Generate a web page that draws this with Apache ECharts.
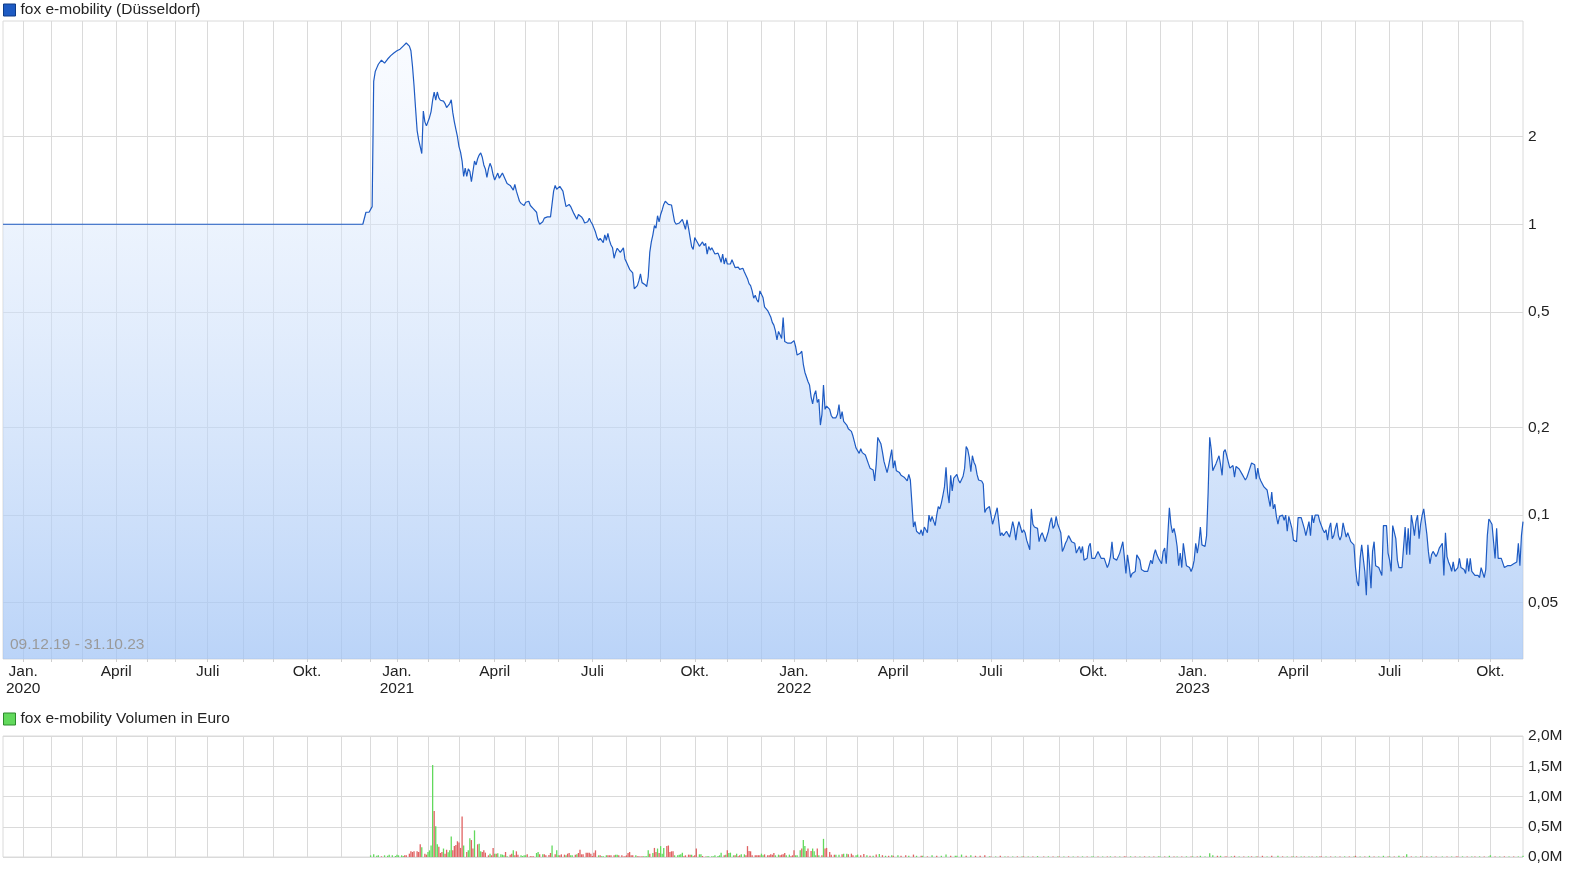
<!DOCTYPE html>
<html><head><meta charset="utf-8">
<script src="https://cdn.jsdelivr.net/npm/echarts@6/dist/echarts.min.js"></script>
<style>html,body{margin:0;padding:0;background:#fff}#c{width:1586px;height:874px}</style>
</head><body><div id="c"></div>
<script>
// ---------- axis / calendar data ----------
const firstDay = '2019-12-09', lastDay = '2023-10-31';
const holidays = ['2019-12-24','2019-12-25','2019-12-26','2019-12-31','2020-01-01','2020-04-10','2020-04-13','2020-05-01',
  '2020-12-24','2020-12-25','2020-12-31','2021-01-01','2021-04-02','2021-04-05','2021-12-24','2021-12-31',
  '2022-04-15','2022-04-18','2022-12-26','2023-04-07','2023-04-10','2023-05-01'];
const pointsPerMonth2020 = [18,20,22,20,18,21,23,19,22,22,19,17];
const quarterNames = {0:'Jan.',3:'April',6:'Juli',9:'Okt.'};
const priceTicks = [0.05,0.1,0.2,0.5,1,2];
const rangeText = '09.12.19 - 31.10.23';

// ---------- price samples per month (EUR) ----------
const price2019 = [[1]]; // Dec 2019
const price2020 = [[1],[1],[1],[1],[1],[1],[1],[1],[1],[1],
  [1,1,1,1,1,1,1,1,1.1,1.1],
  [1.1,1.15,3.1,3.35,3.45,3.55,3.6,3.67,3.67,3.58,3.55,3.7,3.75,3.8,3.85,3.88,3.93]];
const price2021 = [
  [3.95,3.98,4.0,4.05,4.1,4.15,4.2,4.23,4.1,3.95,3.5,3.0,2.5,2.1,1.95,1.85,1.75,2.45,2.25,2.18],
  [2.2,2.33,2.44,2.67,2.85,2.67,2.85,2.72,2.67,2.7,2.65,2.6,2.52,2.55,2.6,2.68,2.42,2.25,2.12,2.0],
  [1.85,1.77,1.65,1.46,1.56,1.46,1.55,1.52,1.40,1.38,1.65,1.6,1.68,1.73,1.76,1.7,1.6,1.55,1.45,1.55,1.62,1.57,1.48],
  [1.42,1.46,1.50,1.44,1.47,1.50,1.48,1.42,1.38,1.36,1.36,1.34,1.31,1.37,1.3,1.25,1.2,1.18,1.17,1.16],
  [1.19,1.2,1.2,1.16,1.15,1.13,1.12,1.1,1.03,1.0,1.0,1.02,1.05,1.05,1.06,1.06,1.06,1.07,1.3,1.36,1.32],
  [1.34,1.35,1.35,1.3,1.22,1.15,1.16,1.17,1.15,1.12,1.09,1.08,1.04,1.08,1.08,1.06,1.04,1.01,1.01,1.02,1.05,1.02],
  [1.0,0.97,0.94,0.9,0.88,0.895,0.88,0.865,0.92,0.88,0.93,0.88,0.849,0.83,0.764,0.8,0.827,0.82,0.8,0.8,0.83,0.76],
  [0.74,0.72,0.70,0.69,0.68,0.6,0.6,0.615,0.64,0.675,0.63,0.64,0.62,0.61,0.66,0.8,0.87,0.92,0.99,0.97,1.07,1.02],
  [1.08,1.12,1.17,1.2,1.2,1.17,1.165,1.165,1.16,1.02,1.0,1.0,1.01,1.02,1.04,1.0,0.96,1.035,0.97,0.9,0.838,0.82],
  [0.9,0.88,0.86,0.84,0.855,0.87,0.845,0.86,0.79,0.838,0.815,0.83,0.82,0.79,0.79,0.796,0.77,0.74,0.79,0.73,0.767],
  [0.73,0.719,0.73,0.755,0.745,0.71,0.71,0.712,0.70,0.70,0.706,0.685,0.69,0.65,0.625,0.615,0.59,0.557,0.57,0.55,0.54,0.59],
  [0.59,0.56,0.52,0.52,0.505,0.505,0.48,0.46,0.45,0.43,0.40,0.428,0.417,0.405,0.478,0.395,0.395,0.39,0.395,0.39,0.39]];
const price2022 = [
  [0.398,0.38,0.355,0.357,0.36,0.366,0.33,0.31,0.31,0.288,0.28,0.255,0.241,0.259,0.268,0.244,0.25,0.204,0.222,0.28,0.231],
  [0.237,0.234,0.231,0.22,0.216,0.219,0.216,0.222,0.24,0.214,0.227,0.21,0.207,0.204,0.198,0.196,0.194,0.187,0.189,0.17],
  [0.17,0.163,0.169,0.164,0.162,0.161,0.16,0.15,0.145,0.143,0.143,0.131,0.15,0.185,0.185,0.176,0.165,0.153,0.152,0.14,0.148,0.148,0.168],
  [0.145,0.154,0.142,0.14,0.14,0.137,0.136,0.135,0.134,0.131,0.138,0.132,0.11,0.091,0.095,0.088,0.087,0.086,0.089],
  [0.085,0.091,0.089,0.087,0.1,0.095,0.099,0.1,0.092,0.1,0.107,0.105,0.11,0.117,0.125,0.146,0.12,0.11,0.137,0.121,0.134,0.136],
  [0.138,0.132,0.129,0.131,0.136,0.145,0.172,0.168,0.158,0.141,0.16,0.152,0.148,0.138,0.132,0.131,0.131,0.128,0.102,0.105,0.106,0.107],
  [0.1,0.093,0.097,0.098,0.106,0.107,0.085,0.087,0.085,0.085,0.088,0.088,0.084,0.089,0.095,0.09,0.082,0.09,0.095,0.091,0.087],
  [0.089,0.087,0.082,0.079,0.076,0.105,0.093,0.091,0.09,0.09,0.081,0.085,0.087,0.086,0.081,0.081,0.088,0.094,0.098,0.09,0.092,0.099,0.093],
  [0.09,0.087,0.075,0.077,0.08,0.082,0.085,0.083,0.081,0.081,0.08,0.074,0.073,0.078,0.074,0.078,0.07,0.071,0.071,0.078,0.08,0.071],
  [0.071,0.071,0.071,0.075,0.076,0.071,0.07,0.071,0.071,0.066,0.068,0.072,0.081,0.071,0.071,0.07,0.069,0.074,0.073,0.081,0.081],
  [0.063,0.073,0.067,0.061,0.063,0.064,0.064,0.073,0.073,0.07,0.065,0.064,0.064,0.064,0.064,0.065,0.07,0.068,0.073,0.076,0.073,0.071],
  [0.072,0.068,0.075,0.077,0.068,0.085,0.106,0.093,0.087,0.09,0.085,0.078,0.067,0.074,0.066,0.08,0.081,0.067,0.066,0.066,0.064]];
const price2023 = [
  [0.066,0.07,0.08,0.074,0.08,0.091,0.079,0.078,0.078,0.085,0.12,0.185,0.168,0.142,0.146,0.15,0.152,0.16,0.149,0.137,0.165,0.168],
  [0.16,0.152,0.145,0.145,0.148,0.135,0.147,0.146,0.144,0.144,0.138,0.135,0.132,0.135,0.14,0.142,0.151,0.151,0.149,0.133],
  [0.145,0.135,0.131,0.13,0.125,0.126,0.122,0.114,0.107,0.12,0.105,0.109,0.099,0.093,0.099,0.1,0.1,0.096,0.1,0.088,0.099,0.1,0.09],
  [0.082,0.081,0.081,0.098,0.098,0.098,0.098,0.09,0.085,0.084,0.095,0.085,0.1,0.094,0.1,0.1,0.1,0.095],
  [0.092,0.089,0.087,0.089,0.082,0.09,0.094,0.083,0.085,0.09,0.094,0.085,0.082,0.085,0.094,0.093,0.084,0.087,0.084,0.081,0.081,0.079],
  [0.066,0.059,0.057,0.071,0.079,0.079,0.064,0.053,0.079,0.068,0.056,0.075,0.081,0.067,0.066,0.066,0.065,0.062,0.092,0.092,0.092,0.074],
  [0.07,0.064,0.092,0.091,0.083,0.07,0.066,0.066,0.066,0.066,0.091,0.073,0.09,0.073,0.1,0.093,0.085,0.095,0.1,0.083,0.093],
  [0.1,0.105,0.095,0.086,0.075,0.068,0.073,0.075,0.075,0.072,0.074,0.077,0.078,0.08,0.062,0.087,0.072,0.069,0.067,0.064,0.069,0.064,0.065],
  [0.066,0.071,0.066,0.065,0.065,0.063,0.071,0.064,0.071,0.064,0.063,0.062,0.062,0.062,0.061,0.066,0.065,0.061,0.065,0.085,0.097],
  [0.095,0.093,0.092,0.071,0.09,0.071,0.07,0.071,0.07,0.066,0.065,0.067,0.067,0.067,0.068,0.068,0.067,0.069,0.08,0.067,0.085,0.095]];

// ---------- volume samples per month (million EUR; + = up day / green, - = down day / red) ----------
const vol2020Dec = [0.028,0.044,0.022,0.028,-0.011,0.028,0.022,0.039,0.028,0.017];
const vol2021 = [
  [0.039,0.028,0.028,0.017,-0.028,-0.028,-0.055,-0.094,-0.083,-0.094,-0.094,-0.083,-0.21,0.16,-0.055,-0.039],
  [0.083,0.11,0.19,1.52,-0.76,0.51,0.21,-0.17,-0.066,-0.083,0.14,-0.055,-0.12,0.077,0.11,0.34,-0.11,-0.18,-0.2,-0.26],
  [-0.24,-0.15,-0.67,0.19,-0.083,0.11,0.31,-0.28,-0.14,0.44,-0.21,0.22,0.094,-0.083,-0.11,-0.072,-0.028,0.055,-0.028,-0.15],
  [0.055,-0.055,0.061,0.044,0.039,0.028,-0.083,0.011,-0.039,-0.055,0.11,-0.028,-0.094,-0.039,0.028,0.017,0.028],
  [0.028,-0.044,-0.011,-0.011,-0.011,0.066,0.083,-0.044,0.044,-0.044,-0.028,-0.033,-0.066,0.19,-0.044,0.11],
  [0.028,-0.028,-0.044,-0.039,0.028,-0.055,-0.066,0.028,0.028,-0.039,0.044,-0.066,-0.12,-0.044,-0.044,-0.072,-0.072,-0.072,-0.055],
  [-0.017,-0.072,-0.11,0.028,-0.028,0.011,0.011,0.028,-0.028,-0.028,-0.028,-0.028,0.039,0.039,-0.028,-0.028,-0.006,-0.011],
  [-0.028,-0.066,-0.083,-0.028,-0.028,0.028,-0.011,-0.011,-0.006,-0.011,0.011,0.011,0.011,0.11,-0.055,0.066,-0.15,-0.083,0.14,-0.066],
  [0.18,0.055,0.15,-0.18,-0.19,-0.083,-0.094,-0.094,0.028,0.028,0.039,0.044,0.072,-0.011,-0.028,-0.039,-0.039,0.039,-0.011],
  [-0.028,-0.14,0.044,0.044,-0.017,-0.006,0.011,0.011,0.011,0.011,0.028,0.017,0.028,0.072,-0.028,0.039],
  [-0.11,0.066,0.072,0.028,-0.028,0.055,-0.011,-0.028,0.044,0.044,-0.028,-0.18,-0.099,-0.094,-0.028,-0.028,-0.028,-0.028,-0.028],
  [0.055,0.028,-0.044,-0.028,-0.028,-0.044,-0.039,-0.066,0.028,0.039,-0.028,-0.039,-0.044,-0.066,0.028,0.039,-0.011,-0.028]];
const vol2022 = [
  [-0.11,0.028,0.028,0.11,-0.14,0.28,0.18,-0.099,-0.14,-0.099,0.14,0.094,0.028,-0.14,0.028,-0.028,0.3,-0.14],
  [-0.15,-0.083,-0.039,-0.039,0.039,0.039,-0.044,0.055,0.055,-0.044,-0.055,-0.03,0.03],
  [0.04,-0.03,-0.05,0.03,-0.02,0.02,-0.04,0.05,-0.03,0.02,-0.02,0.03],
  [-0.02,0.03,-0.02,-0.03,0.02,-0.04,0.02,-0.02],
  [0.02,-0.01,0.03,-0.02,0.02,0.04,-0.02,0.02],
  [0.02,0.04,-0.02,0.03,-0.02,-0.02,-0.03,0.01],
  [-0.01,0.01,-0.02,0.01,-0.01,0.01,-0.01,0.01],
  [-0.01,0.01,-0.01,0.015,-0.01,0.01,-0.01,0.01],
  [-0.01,0.01,-0.01,0.01,-0.01,0.01,-0.01,0.01],
  [0.01,-0.01,0.01,-0.01,0.01,-0.01,0.01,-0.01],
  [-0.01,0.01,-0.01,0.01,-0.01,0.01,-0.01,0.01],
  [0.01,-0.01,0.02,-0.01,0.01,-0.01,0.01,-0.01]];
const vol2023 = [
  [0.01,-0.01,0.02,0.01,0.06,0.03,-0.02,0.02,-0.01],
  [-0.01,0.01,-0.02,0.01,-0.01,0.01,-0.01,0.01],
  [-0.01,-0.02,0.01,-0.02,0.02,-0.01,0.01,-0.01],
  [0.01,-0.01,0.01,-0.01,0.01,-0.01,0.01,-0.01],
  [-0.01,0.01,-0.01,0.01,-0.01,0.01,-0.01,0.01],
  [-0.02,0.01,-0.01,0.02,-0.01,0.01,0.02,-0.01],
  [0.01,-0.01,0.02,-0.01,0.045,-0.01,0.01,-0.01],
  [0.01,-0.01,0.01,-0.01,0.01,-0.01,0.01,-0.01],
  [-0.01,0.01,-0.01,0.01,-0.01,0.01,-0.01,0.01],
  [0.03,-0.01,0.01,-0.01,0.01,-0.01,0.01,0.02]];

// ---------- build the category table ----------
const FONT = '"Liberation Sans", Arial, Helvetica, sans-serif';
const holidaySet = new Set(holidays);
function pad(n){return (n<10?'0':'')+n;}
const months = [];
for (let y = 2019, m = 11; y < 2023 || (y === 2023 && m <= 9);) {
  let days = [];
  for (let d = 1; d <= 31; d++) {
    const dt = new Date(Date.UTC(y, m, d));
    if (dt.getUTCMonth() !== m) break;
    const wd = dt.getUTCDay();
    if (wd === 0 || wd === 6) continue;
    const s = y + '-' + pad(m + 1) + '-' + pad(d);
    if (s < firstDay || s > lastDay || holidaySet.has(s)) continue;
    days.push(s);
  }
  if (y === 2020 && days.length > pointsPerMonth2020[m]) {
    const t = pointsPerMonth2020[m], L = days.length, keep = [];
    for (let i = 0; i < t; i++) keep.push(days[Math.round(i * (L - 1) / (t - 1))]);
    days = keep;
  }
  months.push({y, m, days});
  m++; if (m > 11) { m = 0; y++; }
}
const priceSets = {2019: [11, price2019], 2020: [0, price2020], 2021: [0, price2021], 2022: [0, price2022], 2023: [0, price2023]};
const volSets = {2020: [11, [vol2020Dec]], 2021: [0, vol2021], 2022: [0, vol2022], 2023: [0, vol2023]};
function samplesFor(sets, y, m) {
  const s = sets[y]; if (!s) return null;
  return s[1][m - s[0]] || null;
}
const categories = [], priceData = [], volData = [];
const monthStartSet = new Set(), labelMap = {};
months.forEach(mo => {
  const off = categories.length, N = mo.days.length;
  mo.days.forEach(d => { categories.push(d); priceData.push(null); volData.push(null); });
  if (mo.y > 2019) {
    monthStartSet.add(mo.days[0]);
    if (quarterNames[mo.m] !== undefined) labelMap[mo.days[0]] = quarterNames[mo.m] + (mo.m === 0 ? '\n' + mo.y : '');
  }
  const place = (target, samples, fn) => {
    if (!samples) return;
    const n = samples.length;
    samples.forEach((v, k) => {
      const pos = n === 1 ? 0 : Math.round(k * (N - 1) / (n - 1));
      target[off + pos] = fn(v);
    });
  };
  place(priceData, samplesFor(priceSets, mo.y, mo.m), v => v);
  place(volData, samplesFor(volSets, mo.y, mo.m), v => ({value: Math.abs(v), itemStyle: {color: v >= 0 ? '#62d95c' : '#e06262'}}));
});

const isMonthStart = (i, v) => monthStartSet.has(v);
const gridLine = {show: true, interval: isMonthStart, lineStyle: {color: '#dadada', width: 1}};

const chart = echarts.init(document.getElementById('c'), null, {renderer: 'canvas'});
chart.setOption({
  animation: false,
  backgroundColor: '#fff',
  textStyle: {fontFamily: FONT},
  legend: [
    {data: ['fox e-mobility (Düsseldorf)'], left: 3, top: 2, padding: 0, icon: 'rect', itemWidth: 12, itemHeight: 12,
     selectedMode: false, itemStyle: {borderColor: '#0e3b86', borderWidth: 1},
     textStyle: {fontSize: 15.5, color: '#222', fontFamily: FONT}},
    {data: ['fox e-mobility Volumen in Euro'], left: 3, top: 711, padding: 0, icon: 'rect', itemWidth: 12, itemHeight: 12,
     selectedMode: false, itemStyle: {borderColor: '#2d8a2d', borderWidth: 1},
     textStyle: {fontSize: 15.5, color: '#222', fontFamily: FONT}}
  ],
  grid: [
    {left: 3, right: 63, top: 21, height: 638, show: true, borderColor: '#dadada', borderWidth: 1},
    {left: 3, right: 63, top: 736, height: 121, show: true, borderColor: '#dadada', borderWidth: 1}
  ],
  xAxis: [
    {type: 'category', gridIndex: 0, data: categories, boundaryGap: false,
     axisLine: {show: false},
     axisTick: {show: true, interval: isMonthStart, length: 3, lineStyle: {color: '#cfcfcf'}},
     axisLabel: {show: true, interval: (i, v) => labelMap[v] !== undefined, formatter: v => labelMap[v] || '',
       color: '#222', fontSize: 15.5, lineHeight: 17, margin: 4, fontFamily: FONT},
     splitLine: gridLine},
    {type: 'category', gridIndex: 1, data: categories, boundaryGap: false,
     axisLine: {show: false}, axisTick: {show: false}, axisLabel: {show: false},
     splitLine: gridLine}
  ],
  yAxis: [
    {type: 'log', gridIndex: 0, logBase: 10, min: 0.032, max: 5, position: 'right',
     axisLine: {show: false},
     axisTick: {show: false, customValues: priceTicks},
     axisLabel: {customValues: priceTicks, formatter: v => String(+v.toPrecision(6)).replace('.', ','),
       color: '#222', fontSize: 15.5, margin: 5, fontFamily: FONT},
     splitLine: {show: true, lineStyle: {color: '#dadada'}}},
    {type: 'value', gridIndex: 1, min: 0, max: 2, interval: 0.5, position: 'right',
     axisLine: {show: false}, axisTick: {show: false},
     axisLabel: {formatter: v => v.toFixed(1).replace('.', ',') + 'M', color: '#222', fontSize: 15.5, margin: 5, fontFamily: FONT},
     splitLine: {show: true, lineStyle: {color: '#dadada'}}}
  ],
  graphic: [
    {type: 'text', left: 10, top: 637, z: 100, silent: true,
     style: {text: rangeText, fill: '#9a9a9a', font: '15.5px ' + FONT}}
  ],
  series: [
    {type: 'line', name: 'fox e-mobility (Düsseldorf)', xAxisIndex: 0, yAxisIndex: 0, data: priceData,
     connectNulls: true, showSymbol: false, symbol: 'none', silent: true,
     itemStyle: {color: '#1e5bc3'},
     lineStyle: {color: '#1e5bc3', width: 1.2},
     areaStyle: {origin: 'start', opacity: 1, color: new echarts.graphic.LinearGradient(0, 0, 0, 1, [
       {offset: 0, color: 'rgba(240,246,255,0.4)'},
       {offset: 1, color: 'rgba(160,195,245,0.72)'}])}},
    {type: 'bar', name: 'fox e-mobility Volumen in Euro', xAxisIndex: 1, yAxisIndex: 1, data: volData,
     barWidth: 1.3, silent: true, itemStyle: {color: '#62d95c'}}
  ]
});
</script></body></html>
